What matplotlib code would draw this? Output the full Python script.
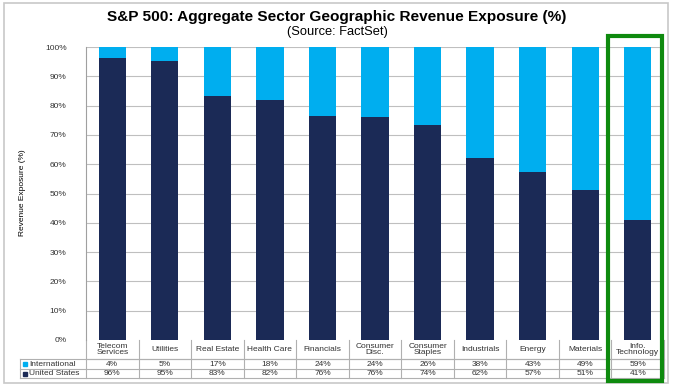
import matplotlib
matplotlib.use("Agg")
import matplotlib.pyplot as plt
from matplotlib.patches import Rectangle
from matplotlib.lines import Line2D
import numpy as np

plt.rcParams["font.family"] = ["Liberation Sans", "DejaVu Sans"]

# ── data ──────────────────────────────────────────────────────────────────────
sectors = ["Telecom\nServices", "Utilities", "Real Estate", "Health Care", "Financials",
           "Consumer\nDisc.", "Consumer\nStaples", "Industrials", "Energy", "Materials",
           "Info.\nTechnology"]
us_share = [96.3, 95.3, 83.4, 82.0, 76.4, 76.0, 73.5, 62.0, 57.3, 51.2, 41.0]
intl_labels = ["4%", "5%", "17%", "18%", "24%", "24%", "26%", "38%", "43%", "49%", "59%"]
us_labels = ["96%", "95%", "83%", "82%", "76%", "76%", "74%", "62%", "57%", "51%", "41%"]
yticks = list(range(0, 101, 10))

C_INTL = "#00AEEF"
C_US = "#1B2A56"
GRID = "#BFBFBF"

W, H = 674, 385
fig = plt.figure(figsize=(W / 100, H / 100), dpi=100)

# outer frame
fig.add_artist(Rectangle((4 / W, 2 / H), 664 / W, 380 / H, transform=fig.transFigure,
                         fill=False, ec="#C8C8C8", lw=1.2))

# plot area in pixels
x0, x1, ytop, ybot = 86, 664, 47, 340
ax = fig.add_axes([x0 / W, 1 - ybot / H, (x1 - x0) / W, (ybot - ytop) / H])

n = len(sectors)
x = np.arange(n)
us = np.array(us_share)
intl = 100 - us
ax.bar(x, us, width=0.52, color=C_US, zorder=3)
ax.bar(x, intl, bottom=us, width=0.52, color=C_INTL, zorder=3)

ax.set_xlim(-0.5, n - 0.5)
ax.set_ylim(0, 100)
ax.set_yticks(yticks)
ax.set_yticklabels([f"{t}%" for t in yticks], fontsize=6, color="#333333")
ax.set_xticks([])
ax.tick_params(axis="y", length=0, pad=14)
for t in yticks[1:]:
    ax.axhline(t, color=GRID, lw=0.8, zorder=1)
for s in ["top", "right", "bottom"]:
    ax.spines[s].set_visible(False)
ax.spines["left"].set_color("#A0A0A0")
ax.spines["left"].set_linewidth(0.8)

fig.text(22 / W, 1 - 193 / H, "Revenue Exposure (%)", rotation=90, fontsize=6,
         ha="center", va="center", fontstretch="condensed")

# ── table below the axes ──────────────────────────────────────────────────────
h = ybot - ytop
r_cat, r_int, r_us = 359, 369, 378  # row bottoms in pixels
def fy(py):
    return (ybot - py) / h

tr = ax.get_xaxis_transform()
lines_kw = dict(color="#B0B0B0", lw=0.8, clip_on=False, transform=tr)
# vertical separators between categories
for i in range(n + 1):
    ax.add_line(Line2D([i - 0.5, i - 0.5], [0, fy(r_us)], **lines_kw))
# horizontal rows
xl = -0.5 - (x0 - 20) / ((x1 - x0) / n)
ax.add_line(Line2D([-0.5, n - 0.5], [fy(r_cat), fy(r_cat)], **lines_kw))
for py in [r_cat, r_int, r_us]:
    ax.add_line(Line2D([xl, n - 0.5], [fy(py), fy(py)], **lines_kw))
ax.add_line(Line2D([xl, xl], [fy(r_cat), fy(r_us)], **lines_kw))

for i, name in enumerate(sectors):
    ax.text(i, fy((ybot + r_cat) / 2), name, transform=tr, ha="center", va="center",
            fontsize=6, linespacing=0.95, color="#333333")
    ax.text(i, fy((r_cat + r_int) / 2), intl_labels[i], transform=tr, ha="center",
            va="center", fontsize=6, color="#333333")
    ax.text(i, fy((r_int + r_us) / 2), us_labels[i], transform=tr, ha="center",
            va="center", fontsize=6, color="#333333")

for py_mid, lab, col in [((r_cat + r_int) / 2, "International", C_INTL),
                         ((r_int + r_us) / 2, "United States", C_US)]:
    fig.add_artist(Rectangle((23 / W, 1 - (py_mid + 2) / H), 4 / W, 4 / H,
                             transform=fig.transFigure, color=col))
    fig.text(29 / W, 1 - py_mid / H, lab, fontsize=6, ha="left", va="center", color="#333333")

# ── titles ────────────────────────────────────────────────────────────────────
fig.text(0.5, 1 - 17 / H, "S&P 500: Aggregate Sector Geographic Revenue Exposure (%)",
         ha="center", va="center", fontsize=11.1, fontweight="bold")
fig.text(0.5, 1 - 32 / H, "(Source: FactSet)", ha="center", va="center", fontsize=9.3)

# green highlight box around Info. Technology
fig.add_artist(Rectangle((608 / W, 1 - 381 / H), 54 / W, 345 / H, transform=fig.transFigure,
                         fill=False, ec="#0E8A0E", lw=3, zorder=10))

fig.savefig("out.png", dpi=100)
